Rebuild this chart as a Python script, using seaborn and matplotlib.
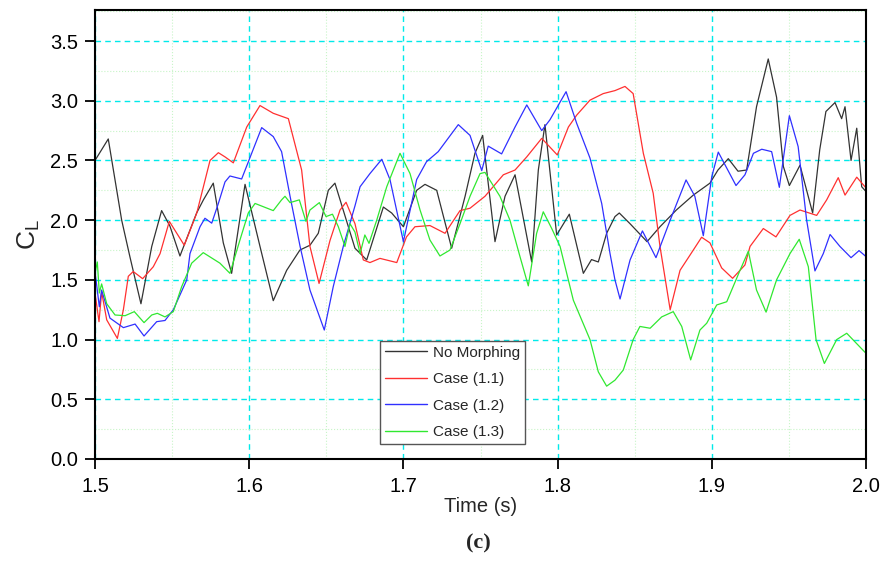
import matplotlib
matplotlib.use("Agg")
import matplotlib.pyplot as plt
from matplotlib.ticker import MultipleLocator
import seaborn as sns
import pandas as pd

# ---------------- data ----------------
t_none = [1.5, 1.5086, 1.5173, 1.5227, 1.5298, 1.5368, 1.5432, 1.5486, 1.5551, 1.5659,
          1.5703, 1.5767, 1.5832, 1.5886, 1.5973, 1.6070, 1.6156, 1.6243, 1.6329, 1.6394,
          1.6448, 1.6513, 1.6556, 1.6643, 1.6686, 1.6762, 1.6870, 1.6924, 1.7000, 1.7086,
          1.7140, 1.7216, 1.7313, 1.7400, 1.7464, 1.7514, 1.7594, 1.7659, 1.7724, 1.7832,
          1.7875, 1.7918, 1.7994, 1.8076, 1.8167, 1.8220, 1.8264, 1.8318, 1.8372, 1.8400,
          1.8470, 1.8580, 1.8664, 1.8770, 1.8880, 1.8988, 1.9040, 1.9107, 1.9170, 1.9226,
          1.9290, 1.9366, 1.9420, 1.9464, 1.9503, 1.9572, 1.9654, 1.9700, 1.9740, 1.9799,
          1.9842, 1.9864, 1.9903, 1.9940, 1.9972, 2.0]
cl_none = [2.50, 2.68, 2.00, 1.69, 1.30, 1.78, 2.08, 1.95, 1.70, 2.06,
           2.17, 2.31, 1.81, 1.555, 2.30, 1.78, 1.326, 1.58, 1.75, 1.79,
           1.89, 2.25, 2.31, 1.945, 1.765, 1.667, 2.11, 2.06, 1.945, 2.25,
           2.30, 2.25, 1.765, 2.20, 2.56, 2.71, 1.82, 2.20, 2.38, 1.65,
           2.42, 2.80, 1.876, 2.05, 1.555, 1.67, 1.65, 1.89, 2.03, 2.06,
           1.97, 1.82, 1.945, 2.085, 2.21, 2.31, 2.42, 2.515, 2.41, 2.42,
           2.95, 3.35, 3.03, 2.45, 2.29, 2.46, 2.06, 2.59, 2.91, 2.985,
           2.85, 2.95, 2.50, 2.77, 2.28, 2.24]

t_c11 = [1.5, 1.5026, 1.5043, 1.5076, 1.5145, 1.5184, 1.5216, 1.5248, 1.5309, 1.5378,
         1.5422, 1.5482, 1.5579, 1.5660, 1.5746, 1.5800, 1.5843, 1.5897, 1.5984, 1.6070,
         1.6156, 1.6254, 1.6340, 1.6394, 1.6453, 1.6524, 1.6589, 1.6628, 1.6686, 1.6740,
         1.6783, 1.6848, 1.6957, 1.7020, 1.7075, 1.7172, 1.7270, 1.7367, 1.7432, 1.7529,
         1.7562, 1.7648, 1.7724, 1.7800, 1.7897, 1.7998, 1.8070, 1.8124, 1.8210, 1.8296,
         1.8372, 1.8437, 1.8490, 1.8556, 1.8620, 1.8664, 1.8730, 1.8794, 1.8860, 1.8934,
         1.8988, 1.9064, 1.9135, 1.9215, 1.9248, 1.9334, 1.9416, 1.9507, 1.9572, 1.9680,
         1.9745, 1.9820, 1.9864, 1.9940, 2.0]
cl_c11 = [1.39, 1.15, 1.40, 1.165, 1.01, 1.25, 1.53, 1.57, 1.51, 1.61,
          1.72, 1.99, 1.79, 2.06, 2.50, 2.565, 2.53, 2.48, 2.78, 2.96,
          2.895, 2.85, 2.42, 1.78, 1.47, 1.83, 2.085, 2.15, 1.97, 1.667,
          1.645, 1.68, 1.645, 1.86, 1.945, 1.955, 1.89, 2.08, 2.10, 2.20,
          2.25, 2.38, 2.42, 2.53, 2.685, 2.546, 2.78, 2.88, 3.005, 3.06,
          3.085, 3.12, 3.06, 2.56, 2.225, 1.78, 1.25, 1.58, 1.71, 1.857,
          1.81, 1.60, 1.513, 1.625, 1.78, 1.93, 1.86, 2.04, 2.085, 2.04,
          2.17, 2.356, 2.21, 2.36, 2.27]

t_c12 = [1.5, 1.5028, 1.5043, 1.5097, 1.5184, 1.5260, 1.5318, 1.5400, 1.5454, 1.5508,
         1.5595, 1.5616, 1.5681, 1.5713, 1.5757, 1.5800, 1.5843, 1.5875, 1.5951, 1.6016,
         1.6081, 1.6156, 1.6210, 1.6265, 1.6330, 1.6394, 1.6487, 1.6545, 1.6610, 1.6686,
         1.6719, 1.6783, 1.6860, 1.6913, 1.7000, 1.7086, 1.7150, 1.7226, 1.7356, 1.7432,
         1.7508, 1.7550, 1.7637, 1.7724, 1.7800, 1.7897, 1.7950, 1.8055, 1.8124, 1.8210,
         1.8286, 1.8340, 1.8372, 1.8405, 1.8470, 1.8550, 1.8638, 1.8730, 1.8833, 1.8890,
         1.8945, 1.9000, 1.9042, 1.9157, 1.9215, 1.9270, 1.9324, 1.9388, 1.9438, 1.9503,
         1.9560, 1.9615, 1.9669, 1.9723, 1.9767, 1.9831, 1.9903, 1.9955, 2.0]
cl_c12 = [1.57, 1.275, 1.415, 1.18, 1.10, 1.13, 1.03, 1.15, 1.16, 1.25,
          1.50, 1.72, 1.945, 2.016, 1.975, 2.14, 2.32, 2.37, 2.345, 2.56,
          2.775, 2.70, 2.574, 2.20, 1.78, 1.415, 1.08, 1.443, 1.78, 2.12,
          2.28, 2.39, 2.51, 2.34, 1.82, 2.34, 2.49, 2.574, 2.80, 2.71,
          2.415, 2.62, 2.555, 2.78, 2.965, 2.75, 2.84, 3.076, 2.81, 2.52,
          2.14, 1.72, 1.50, 1.34, 1.667, 1.91, 1.686, 2.00, 2.337, 2.20,
          1.87, 2.365, 2.57, 2.29, 2.38, 2.56, 2.594, 2.574, 2.275, 2.875,
          2.616, 2.00, 1.575, 1.72, 1.88, 1.78, 1.686, 1.745, 1.695]

t_c13 = [1.5, 1.5015, 1.5028, 1.5043, 1.5076, 1.5130, 1.5195, 1.5255, 1.5318, 1.5368,
         1.5404, 1.5454, 1.5508, 1.5562, 1.5627, 1.5702, 1.5810, 1.5875, 1.5940, 1.5994,
         1.6038, 1.6156, 1.6210, 1.6232, 1.6265, 1.6325, 1.6368, 1.6394, 1.6455, 1.6498,
         1.6540, 1.6578, 1.6621, 1.6654, 1.6686, 1.6719, 1.6750, 1.6777, 1.6827, 1.6892,
         1.6978, 1.7043, 1.7108, 1.7172, 1.7237, 1.7302, 1.7367, 1.7432, 1.7497, 1.7529,
         1.7626, 1.7691, 1.7756, 1.7810, 1.7864, 1.7907, 1.7962, 1.8016, 1.8102, 1.8210,
         1.8264, 1.8318, 1.8372, 1.8426, 1.8490, 1.8534, 1.8600, 1.8675, 1.8750, 1.8805,
         1.8863, 1.8923, 1.8967, 1.9032, 1.9097, 1.9183, 1.9237, 1.9290, 1.9352, 1.9420,
         1.9507, 1.9567, 1.9626, 1.9676, 1.9730, 1.9810, 1.9875, 2.0]
cl_c13 = [1.555, 1.65, 1.39, 1.466, 1.30, 1.206, 1.20, 1.234, 1.142, 1.206,
          1.22, 1.19, 1.234, 1.443, 1.64, 1.728, 1.64, 1.555, 1.834, 2.06,
          2.14, 2.08, 2.17, 2.20, 2.147, 2.17, 1.99, 2.085, 2.147, 2.03,
          2.05, 1.945, 1.78, 1.97, 1.90, 1.72, 1.876, 1.806, 2.00, 2.28,
          2.56, 2.39, 2.085, 1.834, 1.70, 1.75, 1.97, 2.20, 2.39, 2.40,
          2.20, 2.00, 1.695, 1.45, 1.89, 2.07, 1.93, 1.78, 1.33, 1.00,
          0.73, 0.61, 0.66, 0.745, 1.00, 1.11, 1.095, 1.19, 1.234, 1.11,
          0.83, 1.08, 1.137, 1.29, 1.317, 1.58, 1.74, 1.415, 1.23, 1.50,
          1.72, 1.84, 1.61, 1.00, 0.80, 1.00, 1.053, 0.885]

series_names = ["No Morphing", "Case (1.1)", "Case (1.2)", "Case (1.3)"]
series_colors = ["#333333", "#ff3030", "#3030ff", "#30e830"]
x_ticks = [1.5, 1.6, 1.7, 1.8, 1.9, 2.0]
y_ticks = [0.0, 0.5, 1.0, 1.5, 2.0, 2.5, 3.0, 3.5]

frames = []
for name, t, c in zip(series_names, [t_none, t_c11, t_c12, t_c13],
                      [cl_none, cl_c11, cl_c12, cl_c13]):
    frames.append(pd.DataFrame({"Time": t, "CL": c, "Series": name}))
df = pd.concat(frames, ignore_index=True)

# ---------------- plot ----------------
sns.set_style("ticks")
plt.rcParams["font.family"] = ["Liberation Sans", "DejaVu Sans"]

fig = plt.figure(figsize=(8.83, 5.63), dpi=100)
ax = fig.add_axes([95 / 883, 1 - 459 / 563, (866 - 95) / 883, (459 - 10) / 563])

ax.set_xlim(1.5, 2.0)
ax.set_ylim(0.0, 3.76)
ax.xaxis.set_minor_locator(MultipleLocator(0.05))
ax.yaxis.set_minor_locator(MultipleLocator(0.25))
ax.set_xticks(x_ticks)
ax.set_yticks(y_ticks)
ax.set_xticklabels([f"{v:.1f}" for v in x_ticks])
ax.set_yticklabels([f"{v:.1f}" for v in y_ticks])

ax.grid(which="minor", color="#c8f5c8", linestyle=":", linewidth=0.8)
ax.grid(which="major", color="#00eaea", linestyle=(0, (4, 3)), linewidth=1.0)
ax.set_axisbelow(True)

sns.lineplot(data=df, x="Time", y="CL", hue="Series", hue_order=series_names,
             palette=series_colors, sort=False, estimator=None, linewidth=0.9,
             ax=ax, legend=True)

for s in ax.spines.values():
    s.set_color("black")
    s.set_linewidth(1.5)
    s.set_visible(True)

ax.tick_params(axis="both", which="major", direction="out", length=7, width=1.3,
               labelsize=14.5, top=False, right=False, colors="black")
ax.tick_params(axis="both", which="minor", length=0)
ax.tick_params(axis="x", pad=6)
ax.tick_params(axis="y", pad=5)

ax.set_xlabel("Time (s)", fontsize=14.5, labelpad=1)
ax.set_ylabel("C$_\\mathregular{L}$", fontsize=19, labelpad=6)

leg = ax.legend(loc="upper left", bbox_to_anchor=(285 / 771, 118 / 449),
                borderaxespad=0, fontsize=11, frameon=True, fancybox=False,
                edgecolor="#555555", framealpha=1, handlelength=2.8,
                labelspacing=0.82, borderpad=0.3, handletextpad=0.4)
leg.get_frame().set_linewidth(1.0)
for line in leg.get_lines():
    line.set_linewidth(1.0)

fig.text(478 / 883, 1 - 543 / 563, "(c)", ha="center", va="center",
         fontsize=16, fontweight="bold", family=["Liberation Serif", "DejaVu Serif"])

fig.savefig("out.png", dpi=100)
